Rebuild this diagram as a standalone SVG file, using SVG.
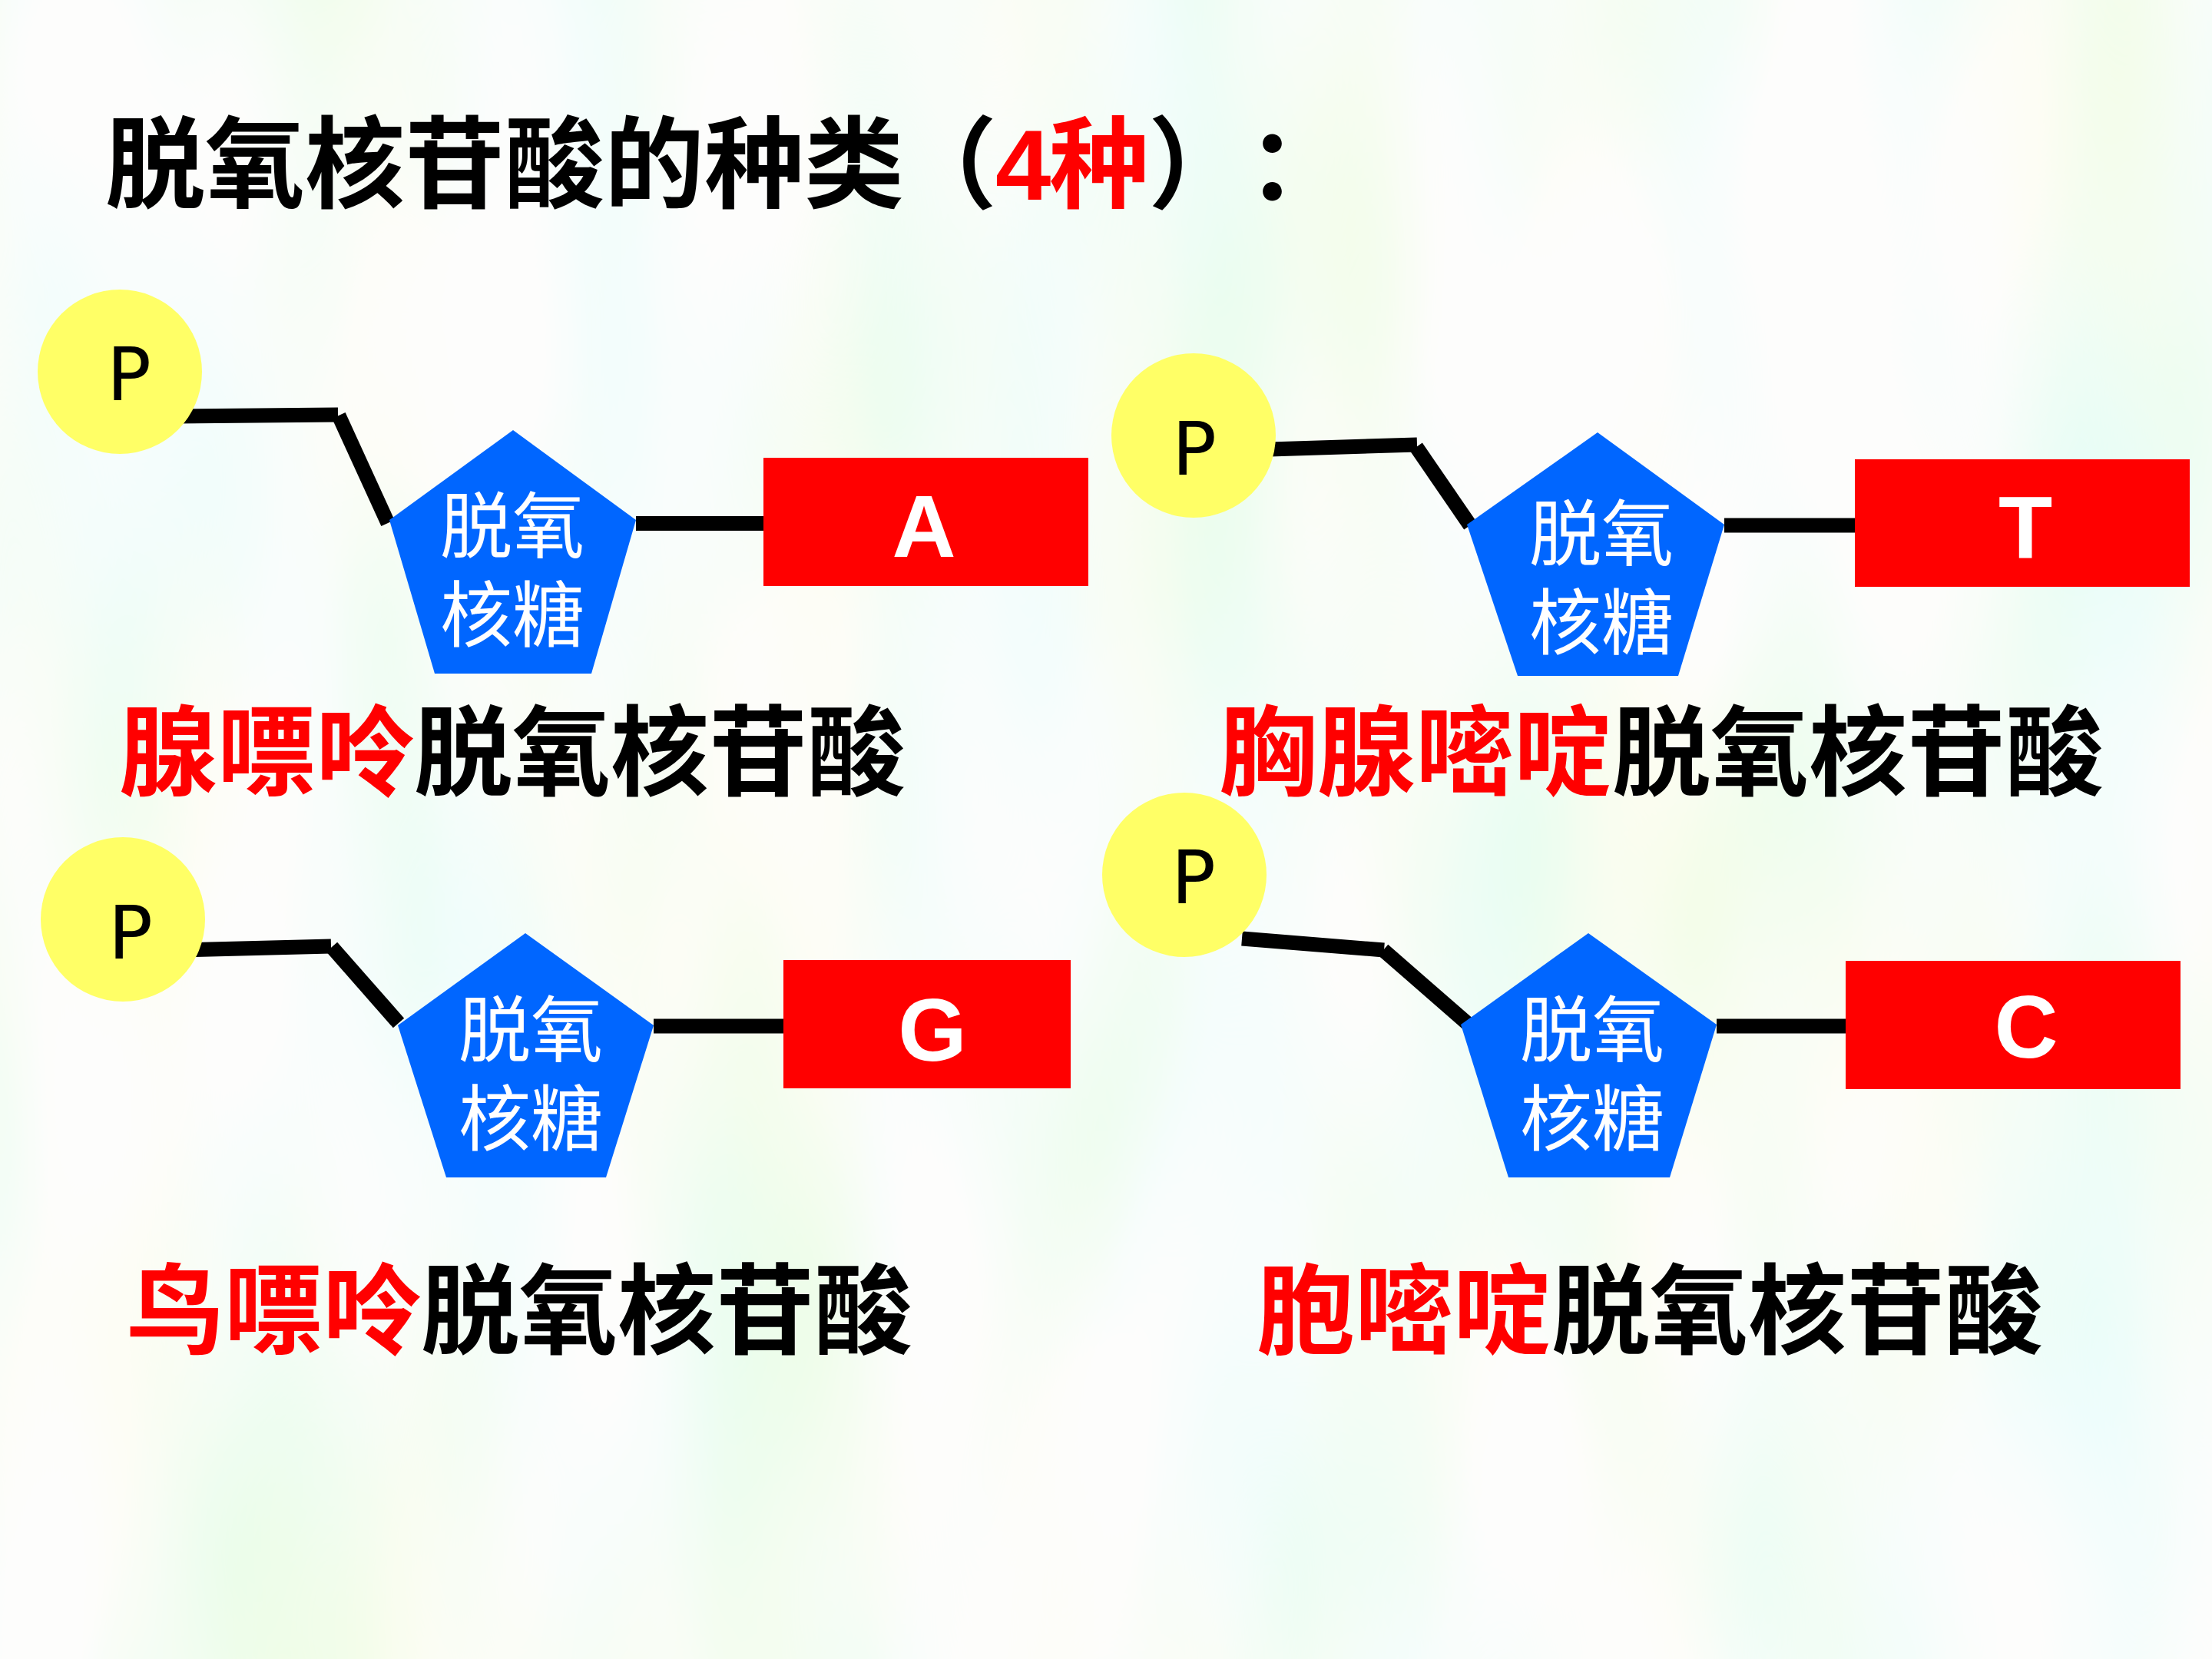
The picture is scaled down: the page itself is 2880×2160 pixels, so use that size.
<svg xmlns="http://www.w3.org/2000/svg" width="2880" height="2160" viewBox="0 0 2880 2160">
<defs>
<filter id="bgnoise" x="0" y="0" width="100%" height="100%">
<feTurbulence type="fractalNoise" baseFrequency="0.0035 0.0012" numOctaves="2" seed="7"/>
<feColorMatrix type="matrix" values="0.45 0 0 0 0.72  0 0 0 0 0.99  0.25 0 0.3 0 0.68  0 0 0 0 1"/>
</filter>
<style>
.phos{fill:#ffff66}
.sugar{fill:#0066ff}
.base{fill:#ff0000}
.ptxt{font-family:"DejaVu Sans","Liberation Sans",sans-serif;font-size:96px;fill:#000;text-anchor:middle}
.stxt{font-family:"Noto Sans CJK SC",sans-serif;font-size:94px;fill:#fff;text-anchor:middle}
.btxt{font-family:"Liberation Sans",Arial,sans-serif;font-weight:bold;font-size:115px;fill:#fff;text-anchor:middle}
.lbl{font-family:"Noto Sans CJK SC",sans-serif;font-weight:bold;font-size:128px;fill:#000}
.red{fill:#ff0000}
.ttl{font-family:"Noto Sans CJK SC",sans-serif;font-weight:bold;font-size:130px;fill:#000}
.con{stroke:#000;stroke-width:19;stroke-linecap:butt;fill:none}
</style>
</defs>
<rect x="0" y="0" width="2880" height="2160" fill="#f4fcf0"/>
<rect x="0" y="0" width="2880" height="2160" filter="url(#bgnoise)" opacity="0.85"/>

<g id="title">
<text class="ttl" y="260"><tspan x="137">脱氧核苷酸的种类</tspan><tspan x="1168">（</tspan><tspan x="1296" class="red" style="font-family:'Liberation Sans',Arial,sans-serif">4</tspan><tspan x="1366" class="red">种</tspan><tspan x="1495">）</tspan><tspan x="1624">：</tspan></text>
</g>

<g id="connectors">
<line class="con" x1="229" y1="542" x2="440" y2="540"/>
<line class="con" x1="441" y1="541" x2="505" y2="681"/>
<line class="con" x1="828" y1="681.5" x2="995" y2="681.5"/>

<line class="con" x1="1653" y1="585" x2="1845" y2="579"/>
<line class="con" x1="1844" y1="582" x2="1914" y2="684"/>
<line class="con" x1="2245" y1="684" x2="2416" y2="684"/>

<line class="con" x1="236" y1="1237" x2="431" y2="1232"/>
<line class="con" x1="432" y1="1233" x2="519" y2="1332"/>
<line class="con" x1="851" y1="1336" x2="1021" y2="1336"/>

<line class="con" x1="1617" y1="1222" x2="1802" y2="1237"/>
<line class="con" x1="1801" y1="1237" x2="1910" y2="1332"/>
<line class="con" x1="2235" y1="1336" x2="2404" y2="1336"/>
</g>

<g id="adenine-phosphate">
<circle class="phos" cx="156" cy="484" r="107"/>
<text class="ptxt" x="168" y="521">P</text>
</g>
<g id="adenine-sugar">
<polygon class="sugar" points="668,560 828,677 770,877 566,877 507,677"/>
<text class="stxt"><tspan x="667" y="719">脱氧</tspan><tspan x="667" y="835">核糖</tspan></text>
</g>
<g id="adenine-base">
<rect class="base" x="994" y="596" width="423" height="167"/>
<text class="btxt" x="1203" y="725">A</text>
</g>
<g id="adenine-label">
<text class="lbl" x="155" y="1026"><tspan class="red">腺嘌呤</tspan>脱氧核苷酸</text>
</g>

<g id="thymine-phosphate">
<circle class="phos" cx="1554" cy="567" r="107"/>
<text class="ptxt" x="1555" y="618">P</text>
</g>
<g id="thymine-sugar">
<polygon class="sugar" points="2080,563 2245,683 2185,880 1976,880 1910,683"/>
<text class="stxt"><tspan x="2085" y="729">脱氧</tspan><tspan x="2085" y="845">核糖</tspan></text>
</g>
<g id="thymine-base">
<rect class="base" x="2415" y="598" width="436" height="166"/>
<text class="btxt" x="2637" y="726">T</text>
</g>
<g id="thymine-label">
<text class="lbl" x="1587" y="1026"><tspan class="red">胸腺嘧啶</tspan>脱氧核苷酸</text>
</g>

<g id="guanine-phosphate">
<circle class="phos" cx="160" cy="1197" r="107"/>
<text class="ptxt" x="170" y="1248">P</text>
</g>
<g id="guanine-sugar">
<polygon class="sugar" points="684,1215 851,1335 789,1533 581,1533 518,1335"/>
<text class="stxt"><tspan x="691" y="1375">脱氧</tspan><tspan x="691" y="1491">核糖</tspan></text>
</g>
<g id="guanine-base">
<rect class="base" x="1020" y="1250" width="374" height="167"/>
<text class="btxt" x="1214" y="1381">G</text>
</g>
<g id="guanine-label">
<text class="lbl" x="164" y="1753"><tspan class="red">鸟嘌呤</tspan>脱氧核苷酸</text>
</g>

<g id="cytosine-phosphate">
<circle class="phos" cx="1542" cy="1139" r="107"/>
<text class="ptxt" x="1554" y="1176">P</text>
</g>
<g id="cytosine-sugar">
<polygon class="sugar" points="2068,1215 2235,1334 2174,1533 1964,1533 1902,1334"/>
<text class="stxt"><tspan x="2073" y="1375">脱氧</tspan><tspan x="2073" y="1491">核糖</tspan></text>
</g>
<g id="cytosine-base">
<rect class="base" x="2403" y="1251" width="436" height="167"/>
<text class="btxt" x="2638" y="1377">C</text>
</g>
<g id="cytosine-label">
<text class="lbl" x="1636" y="1753"><tspan class="red">胞嘧啶</tspan>脱氧核苷酸</text>
</g>
</svg>
